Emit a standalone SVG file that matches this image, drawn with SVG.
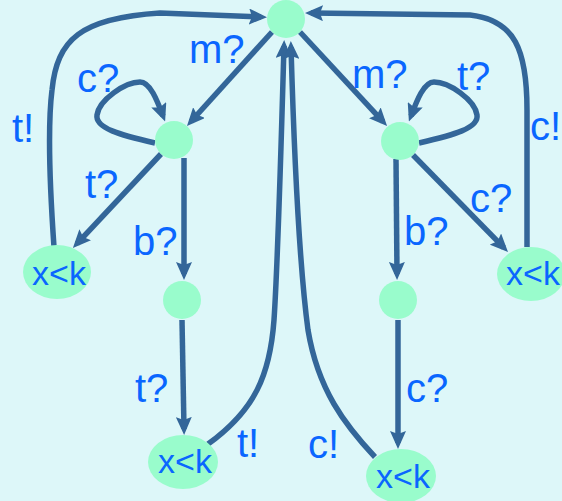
<svg xmlns="http://www.w3.org/2000/svg" width="562" height="501" viewBox="0 0 562 501">
<style>
.n{fill:#99FCCC;stroke:none}
.e{fill:none;stroke:#336699;stroke-width:5.5;marker-end:url(#a)}
.l{font-family:"Liberation Sans",Arial,sans-serif;font-size:40px;fill:#0A66FF}
.g{font-family:"Liberation Sans",Arial,sans-serif;font-size:34px;fill:#0A66FF;text-anchor:middle}
</style>
<defs>
<marker id="a" viewBox="0 0 18 16" refX="12" refY="8" markerWidth="18" markerHeight="16" orient="auto" markerUnits="userSpaceOnUse">
<path d="M0,0 L18,8 L0,16 L3,8 z" fill="#336699"/>
</marker>
</defs>
<rect width="562" height="501" fill="#DDF7F9"/>
<g id="connectors">
<path class="e" d="M272,32 L191,121.5"/>
<path class="e" d="M300,32 L383,121.6"/>
<path class="e" d="M161,154 L77,243.6"/>
<path class="e" d="M413,155 L503.8,247.7"/>
<path class="e" d="M184,158 L184,274"/>
<path class="e" d="M182,320 L184,429"/>
<path class="e" d="M396,159 L397,274"/>
<path class="e" d="M398,320 L398,443"/>
<path class="e" d="M155,143 C120,135 95,128 97,115 C99,100 125,82 140,82 C150,82 157,100 163,116"/>
<path class="e" d="M419,143 C454,135 479,128 477,115 C475,100 449,82 434,82 C424,82 417,100 411,116"/>
<path class="e" d="M208,444 C255,410 270,375 274,320 C278,260 281,150 284,46"/>
<path class="e" d="M375,457 C345,425 318,390 308,330 C300,270 294,150 291,47"/>
<path class="e" d="M527,247 L527,110 C527,50 515,20 470,15 L311,13"/>
<path class="e" d="M54,247 C50,190 47,130 52,90 C57,40 80,18 160,13 L261,17"/>
</g>
<g id="labels">
<text class="l" x="189" y="63">m?</text>
<text class="l" x="77" y="92">c?</text>
<text class="l" x="12" y="142">t!</text>
<text class="l" x="85" y="198">t?</text>
<text class="l" x="133" y="255">b?</text>
<text class="l" x="135" y="402">t?</text>
<text class="l" x="237" y="457">t!</text>
<text class="l" x="352" y="88">m?</text>
<text class="l" x="457" y="90">t?</text>
<text class="l" x="530" y="140">c!</text>
<text class="l" x="470" y="212">c?</text>
<text class="l" x="404" y="245">b?</text>
<text class="l" x="406" y="402">c?</text>
<text class="l" x="308" y="458">c!</text>
</g>
<g id="n-top"><circle class="n" cx="286" cy="19" r="19"/></g>
<g id="n-lm"><circle class="n" cx="174" cy="140" r="19"/></g>
<g id="n-rm"><circle class="n" cx="400" cy="141" r="19"/></g>
<g id="n-ll"><circle class="n" cx="182" cy="300" r="19"/></g>
<g id="n-rl"><circle class="n" cx="398" cy="300" r="19"/></g>
<g id="n-le"><ellipse class="n" cx="57" cy="272" rx="34" ry="27"/><text class="g" x="59" y="285">x&lt;k</text></g>
<g id="n-bl"><ellipse class="n" cx="183" cy="462" rx="35" ry="27"/><text class="g" x="185" y="473">x&lt;k</text></g>
<g id="n-br"><ellipse class="n" cx="401" cy="476" rx="35" ry="27"/><text class="g" x="403" y="488">x&lt;k</text></g>
<g id="n-re"><ellipse class="n" cx="531" cy="274" rx="34" ry="27"/><text class="g" x="533" y="285">x&lt;k</text></g>
</svg>
